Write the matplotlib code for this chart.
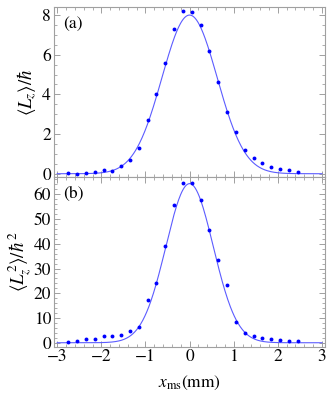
import numpy as np
import matplotlib
matplotlib.use('Agg')
import matplotlib.pyplot as plt
from matplotlib.ticker import MultipleLocator

plt.rcParams['font.family'] = ['STIXGeneral', 'DejaVu Serif']
plt.rcParams['mathtext.fontset'] = 'stix'

# measured positions (mm)
x_ms = [-2.75, -2.55, -2.35, -2.15, -1.95, -1.75, -1.55, -1.35, -1.15, -0.95,
        -0.75, -0.55, -0.35, -0.15, 0.05, 0.25, 0.45, 0.65, 0.85, 1.05,
        1.25, 1.45, 1.65, 1.85, 2.05, 2.25, 2.45]

# (a) <Lz>/hbar
lz = [0.04, 0.0, 0.04, 0.1, 0.17, 0.15, 0.4, 0.68, 1.3, 2.71,
      4.03, 5.59, 7.29, 8.22, 8.15, 7.49, 6.21, 4.63, 3.1, 2.1,
      1.2, 0.78, 0.54, 0.32, 0.24, 0.19, 0.07]

# (b) <Lz^2>/hbar^2
lz2 = [0.5, 0.7, 1.4, 1.5, 2.6, 2.6, 3.0, 4.7, 6.2, 17.4,
       24.3, 39.1, 55.6, 64.4, 64.5, 57.8, 45.5, 33.4, 23.5, 8.5,
       3.8, 2.7, 2.0, 1.6, 1.2, 0.8, 0.57]

# gaussian fit parameters: (amplitude, centre, sigma)
fit_a = (8.0, 0.0, 0.625)
fit_b = (64.3, 0.0, 0.536)

xf = np.linspace(-3, 3, 400)

def gauss(x, p):
    return p[0] * np.exp(-(x - p[1]) ** 2 / (2 * p[2] ** 2))

fig = plt.figure(figsize=(3.32, 3.93), dpi=100)
ax1 = fig.add_axes([0.1617, 0.5504, 0.8173, 0.4310])
ax2 = fig.add_axes([0.1617, 0.1178, 0.8173, 0.4326])

frame_col = '#a0a0a0'
for ax, y, p in [(ax1, lz, fit_a), (ax2, lz2, fit_b)]:
    ax.plot(xf, gauss(xf, p), color='#5c5cff', lw=0.8)
    ax.plot(x_ms, y, 'o', color='#0000ff', ms=2.8, mec='none')
    ax.set_xlim(-3.08, 3.07)
    ax.xaxis.set_major_locator(MultipleLocator(1))
    ax.xaxis.set_minor_locator(MultipleLocator(0.2))
    for s in ax.spines.values():
        s.set_color(frame_col)
        s.set_linewidth(0.8)
    ax.tick_params(which='both', direction='in', top=True, right=True,
                   color=frame_col, labelsize=12.5, pad=2)
    ax.tick_params(which='major', length=4, width=0.7)
    ax.tick_params(which='minor', length=2, width=0.6)

ax1.set_ylim(-0.15, 8.39)
ax1.yaxis.set_major_locator(MultipleLocator(2))
ax1.yaxis.set_minor_locator(MultipleLocator(0.5))
ax1.tick_params(labelbottom=False)
ax1.set_ylabel(r'$\langle L_z\rangle/\hbar$', fontsize=13.5, labelpad=2)
ax1.text(0.035, 0.90, '(a)', transform=ax1.transAxes, fontsize=12.5, va='center')

ax2.set_ylim(-1.6, 67.1)
ax2.yaxis.set_major_locator(MultipleLocator(10))
ax2.yaxis.set_minor_locator(MultipleLocator(2))
ax2.set_ylabel(r'$\langle L_z^2\rangle/\hbar^2$', fontsize=13.5, labelpad=0)
ax2.set_xlabel(r'$x_{\rm ms}$(mm)', fontsize=12.5, labelpad=6)
ax2.text(0.035, 0.90, '(b)', transform=ax2.transAxes, fontsize=12.5, va='center')

fig.savefig('out.png', dpi=100)
